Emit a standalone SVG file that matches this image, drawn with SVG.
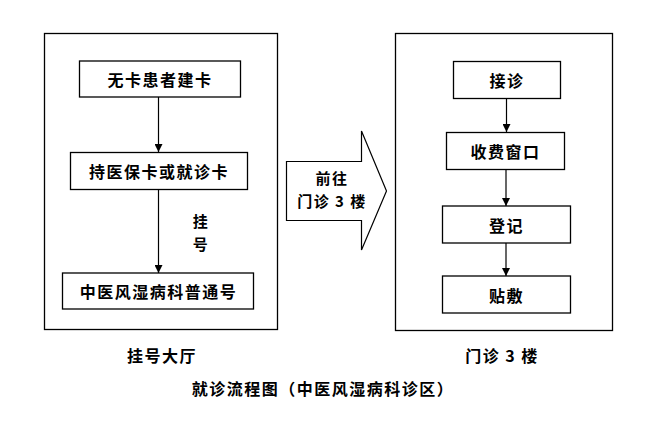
<svg xmlns="http://www.w3.org/2000/svg" width="656" height="436" viewBox="0 0 656 436">
<defs>
<style>
.frame{fill:#fff;stroke:#000;stroke-width:1.3}
.box{fill:#fff;stroke:#000;stroke-width:1.3}
.t{font-family:"Noto Sans CJK SC","Liberation Sans",sans-serif;font-size:16px;font-weight:bold;fill:#000;text-anchor:middle;dominant-baseline:central;letter-spacing:1.5px}
.ln{stroke:#000;stroke-width:1.2;fill:none;marker-end:url(#ah)}
</style>
<marker id="ah" viewBox="0 0 10 10" refX="10" refY="5" markerWidth="8" markerHeight="8" markerUnits="userSpaceOnUse" orient="auto">
<path d="M0,0 L10,5 L0,10 z" fill="#000"/>
</marker>
</defs>
<rect width="656" height="436" fill="#fff"/>
<g id="hall">
<rect class="frame" x="44.5" y="33.5" width="233" height="296"/>
</g>
<g id="clinic">
<rect class="frame" x="395.5" y="33.5" width="217" height="297"/>
</g>
<g id="connectors">
<line class="ln" x1="158.5" y1="97" x2="158.5" y2="152"/>
<line class="ln" x1="158.5" y1="189" x2="158.5" y2="273"/>
<line class="ln" x1="506.5" y1="98" x2="506.5" y2="132"/>
<line class="ln" x1="506" y1="170" x2="506" y2="206"/>
<line class="ln" x1="506" y1="243" x2="506" y2="276"/>
</g>
<g id="n1"><rect class="box" x="79.5" y="61" width="161" height="36"/><text class="t" x="160" y="79">无卡患者建卡</text></g>
<g id="n2"><rect class="box" x="70.5" y="152.5" width="177" height="37"/><text class="t" x="159" y="171">持医保卡或就诊卡</text></g>
<g id="lbl-guahao"><text class="t" x="201" y="220" style="font-size:15px">挂</text><text class="t" x="201" y="243" style="font-size:15px">号</text></g>
<g id="n3"><rect class="box" x="62.5" y="273" width="191" height="36"/><text class="t" x="158.5" y="291">中医风湿病科普通号</text></g>
<g id="goto">
<path d="M286.5,161.5 H361.5 V131 L386.5,191 L361.5,250 V220.5 H286.5 Z" fill="#fff" stroke="#000" stroke-width="1.2"/>
<text class="t" x="332" y="177" style="font-size:15px">前往</text>
<text class="t" x="332" y="200" style="font-size:15px">门诊 3 楼</text>
</g>
<g id="r1"><rect class="box" x="453.5" y="61.5" width="107" height="37"/><text class="t" x="507" y="80">接诊</text></g>
<g id="r2"><rect class="box" x="446.5" y="132.5" width="118" height="37"/><text class="t" x="505.5" y="151">收费窗口</text></g>
<g id="r3"><rect class="box" x="442.5" y="206" width="128" height="37"/><text class="t" x="506.5" y="224.5">登记</text></g>
<g id="r4"><rect class="box" x="442.5" y="276" width="128" height="37"/><text class="t" x="506.5" y="294.5">贴敷</text></g>
<g id="labels">
<text class="t" x="162" y="355">挂号大厅</text>
<text class="t" x="502" y="355">门诊 3 楼</text>
<text class="t" x="323" y="388">就诊流程图（中医风湿病科诊区）</text>
</g>
</svg>
